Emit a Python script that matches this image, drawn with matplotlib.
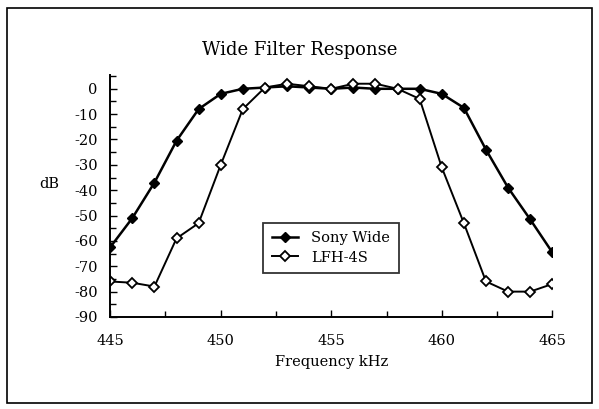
import matplotlib
matplotlib.use("Agg")
import matplotlib.pyplot as plt
from matplotlib.patches import Rectangle
from matplotlib.ticker import MultipleLocator

freq = [445, 446, 447, 448, 449, 450, 451, 452, 453, 454, 455,
        456, 457, 458, 459, 460, 461, 462, 463, 464, 465]
sony_wide = [-62.5, -51, -37, -20.5, -8, -2, 0, 0.5, 1, 0.5, 0,
             0.5, 0, 0, 0, -2, -7.5, -24, -39, -51.5, -64.5]
lfh_4s = [-76, -76.5, -78, -59, -53, -30, -8, 0.5, 2, 1, 0,
          2, 2, 0, -4, -31, -53, -76, -80, -80, -77]

plt.rcParams['font.family'] = ['DejaVu Serif']
plt.rcParams['axes.unicode_minus'] = False

fig = plt.figure(figsize=(5.99, 4.09), dpi=100)
fig.patch.set_facecolor('white')
fig.add_artist(Rectangle((0.011, 0.015), 0.978, 0.965, transform=fig.transFigure,
                         fill=False, edgecolor='black', linewidth=1.2))

ax = fig.add_axes([0.184, 0.225, 0.738, 0.592])
ax.plot(freq, sony_wide, color='black', lw=1.8, marker='D', ms=4.6,
        mfc='black', mec='black', label='Sony Wide')
ax.plot(freq, lfh_4s, color='black', lw=1.4, marker='D', ms=4.6,
        mfc='white', mec='black', mew=1.3, label='LFH-4S')

ax.set_xlim(445, 465)
ax.set_ylim(-90, 5.5)
ax.set_xticks([445, 450, 455, 460, 465])
ax.xaxis.set_minor_locator(MultipleLocator(2.5))
ax.set_yticks(list(range(0, -91, -10)))
ax.yaxis.set_minor_locator(MultipleLocator(5))
ax.tick_params(which='both', direction='in', width=1, labelsize=10.5)
ax.tick_params(axis='x', which='both', pad=12)
ax.tick_params(axis='y', which='both', pad=9)
ax.tick_params(which='major', length=5)
ax.tick_params(which='minor', length=4)
for s in ['top', 'right']:
    ax.spines[s].set_visible(False)
for s in ['left', 'bottom']:
    ax.spines[s].set_linewidth(1.4)

ax.set_xlabel('Frequency kHz', fontsize=10.5, labelpad=5)
ax.set_ylabel('dB', fontsize=10.5, rotation=0, va='center', ha='center')
ax.yaxis.set_label_coords(-0.139, 0.55)
fig.text(0.5, 0.878, 'Wide Filter Response', ha='center', va='center', fontsize=13)

leg = ax.legend(loc='center', bbox_to_anchor=(0.499, 0.285), frameon=True,
                fancybox=False, edgecolor='black', fontsize=10.5,
                handlelength=1.8, handletextpad=0.9, borderpad=0.6,
                labelspacing=0.35)
leg.get_frame().set_linewidth(1.3)

fig.savefig('out.png', dpi=100)
